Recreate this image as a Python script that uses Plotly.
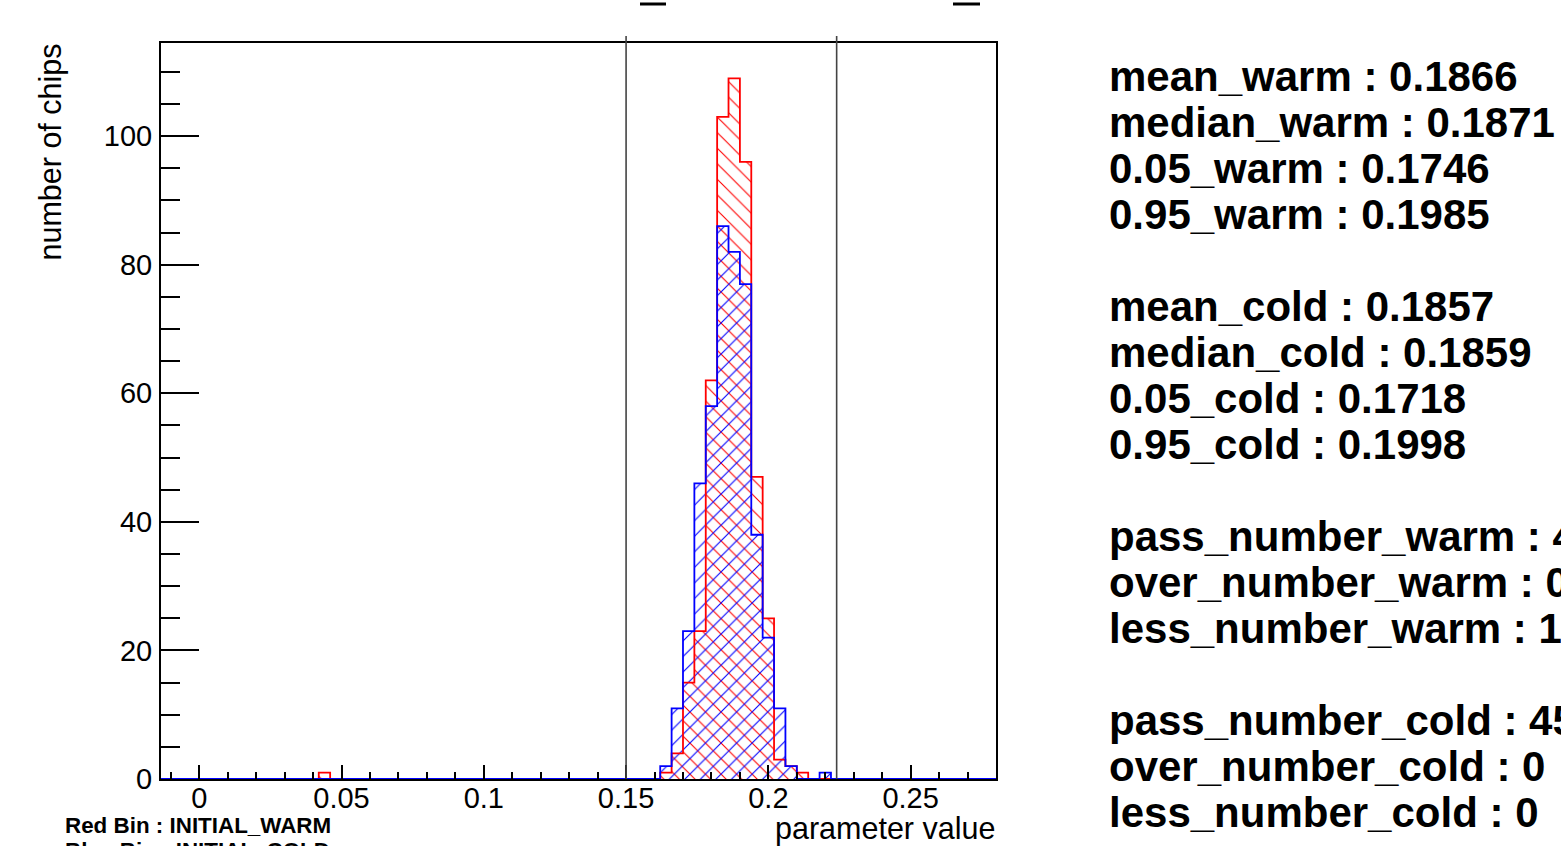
import numpy as np
import plotly.graph_objects as go

# ---------------- data ----------------
bin_width = 0.004
hist_lo = -0.014
n_bins = 74

warm_bin_low = [0.042, 0.162, 0.166, 0.170, 0.174, 0.178, 0.182, 0.186,
                0.190, 0.194, 0.198, 0.202, 0.206, 0.210]
warm_counts = [1, 1, 4, 15, 23, 62, 103, 109, 96, 47, 25, 3, 2, 1]

cold_bin_low = [0.162, 0.166, 0.170, 0.174, 0.178, 0.182, 0.186, 0.190,
                0.194, 0.198, 0.202, 0.206, 0.218]
cold_counts = [2, 11, 23, 46, 58, 86, 82, 77, 38, 22, 11, 2, 1]

limit_low = 0.15
limit_high = 0.224

x_ticks = [0, 0.05, 0.1, 0.15, 0.2, 0.25]
x_tick_labels = ["0", "0.05", "0.1", "0.15", "0.2", "0.25"]
y_ticks = [0, 20, 40, 60, 80, 100]
y_tick_labels = ["0", "20", "40", "60", "80", "100"]

warm_stats = [("mean_warm", "0.1866"), ("median_warm", "0.1871"),
              ("0.05_warm", "0.1746"), ("0.95_warm", "0.1985")]
cold_stats = [("mean_cold", "0.1857"), ("median_cold", "0.1859"),
              ("0.05_cold", "0.1718"), ("0.95_cold", "0.1998")]

x_title = "parameter value"
y_title = "number of chips"
legend_red = "Red Bin : INITIAL_WARM"
legend_blue = "Blue Bin : INITIAL_COLD"

# ---------------- layout geometry (pixels) ----------------
W, H = 1561, 846
L, R, T, B = 161, 996, 43, 779
PW, PH = R - L, B - T


def px(xp):
    return (xp - L) / PW


def py(yp):
    return (B - yp) / PH


def full_hist(lows, counts):
    c = np.zeros(n_bins)
    for lo, n in zip(lows, counts):
        c[int(round((lo - hist_lo) / bin_width))] = n
    return c


edges = hist_lo + bin_width * np.arange(n_bins + 1)
warm_full = full_hist(warm_bin_low, warm_counts)
cold_full = full_hist(cold_bin_low, cold_counts)


def counts_in(lows, counts, cond):
    return int(sum(n for lo, n in zip(lows, counts) if cond(lo + bin_width / 2)))


pass_w = counts_in(warm_bin_low, warm_counts, lambda x: limit_low <= x <= limit_high)
over_w = counts_in(warm_bin_low, warm_counts, lambda x: x > limit_high)
less_w = counts_in(warm_bin_low, warm_counts, lambda x: x < limit_low)
pass_c = counts_in(cold_bin_low, cold_counts, lambda x: limit_low <= x <= limit_high)
over_c = counts_in(cold_bin_low, cold_counts, lambda x: x > limit_high)
less_c = counts_in(cold_bin_low, cold_counts, lambda x: x < limit_low)

fig = go.Figure()

for lows, counts, full, col, shape in [
    (warm_bin_low, warm_counts, warm_full, "#ff0000", "\\"),
    (cold_bin_low, cold_counts, cold_full, "#0000ff", "/"),
]:
    centers = [lo + bin_width / 2 for lo in lows]
    fig.add_trace(go.Bar(
        x=centers, y=counts, width=bin_width,
        marker=dict(color="rgba(0,0,0,0)", line=dict(width=0),
                    pattern=dict(shape=shape, fgcolor=col, bgcolor="rgba(0,0,0,0)",
                                 size=11, solidity=0.1, fillmode="replace")),
        showlegend=False, hoverinfo="skip",
    ))
    fig.add_trace(go.Scatter(
        x=edges, y=list(full) + [full[-1]], mode="lines",
        line=dict(color=col, width=1.8, shape="hv"),
        showlegend=False, hoverinfo="skip",
    ))

# limit lines
for xv in [limit_low, limit_high]:
    fig.add_shape(type="line", xref="x", yref="paper", x0=xv, x1=xv,
                  y0=0, y1=py(36), line=dict(color="#444444", width=1.6))

# remnants of the cut-off title
for x0, x1 in [(640, 666), (953, 980)]:
    fig.add_shape(type="line", xref="paper", yref="paper", x0=px(x0), x1=px(x1),
                  y0=py(4), y1=py(4), line=dict(color="black", width=3))

tick_font = dict(family="Liberation Sans, Arial, sans-serif", size=29, color="black")
title_font = dict(family="Liberation Sans, Arial, sans-serif", size=30.5, color="black")

fig.update_layout(
    width=W, height=H,
    margin=dict(l=L, r=W - R, t=T, b=H - B, pad=0),
    paper_bgcolor="white", plot_bgcolor="white",
    barmode="overlay", bargap=0,
    xaxis=dict(range=[-0.01344, 0.2800], tickvals=x_ticks, ticktext=x_tick_labels,
               ticks="inside", ticklen=14, tickwidth=1.5, tickcolor="black",
               minor=dict(dtick=0.01, tick0=0, ticks="inside", ticklen=7,
                          tickwidth=1.5, tickcolor="black"),
               showline=True, mirror=True, linecolor="black", linewidth=2,
               showgrid=False, zeroline=False, tickfont=tick_font,
               ticklabelstandoff=-8),
    yaxis=dict(range=[0, 114.5], tickvals=y_ticks, ticktext=y_tick_labels,
               ticks="inside", ticklen=38, tickwidth=1.5, tickcolor="black",
               minor=dict(dtick=5, tick0=0, ticks="inside", ticklen=19,
                          tickwidth=1.5, tickcolor="black"),
               showline=True, mirror=True, linecolor="black", linewidth=2,
               showgrid=False, zeroline=False, tickfont=tick_font,
               ticklabelstandoff=1),
)

ann = []
ann.append(dict(text=x_title, xref="paper", yref="paper", x=px(997), y=py(828),
                xanchor="right", yanchor="middle", showarrow=False, font=title_font))
ann.append(dict(text=y_title, xref="paper", yref="paper", x=px(50), y=py(152.5),
                xanchor="center", yanchor="middle", textangle=-90, showarrow=False,
                font=title_font))
leg_font = dict(family="Liberation Sans, Arial, sans-serif", size=22.4, color="black",
                weight="bold")
ann.append(dict(text=legend_red, xref="paper", yref="paper", x=px(63), y=py(825),
                xanchor="left", yanchor="middle", showarrow=False, font=leg_font))
ann.append(dict(text=legend_blue, xref="paper", yref="paper", x=px(63), y=py(850),
                xanchor="left", yanchor="middle", showarrow=False, font=leg_font))

stat_lines = (
    [f"{k} : {v}" for k, v in warm_stats] + [None]
    + [f"{k} : {v}" for k, v in cold_stats] + [None]
    + [f"pass_number_warm : {pass_w}", f"over_number_warm : {over_w}",
       f"less_number_warm : {less_w}", None,
       f"pass_number_cold : {pass_c}", f"over_number_cold : {over_c}",
       f"less_number_cold : {less_c}"]
)
stat_font = dict(family="Liberation Sans, Arial, sans-serif", size=42, color="black",
                 weight="bold")
baseline0, step = 91, 46
for i, line in enumerate(stat_lines):
    if line is None:
        continue
    base = baseline0 + step * i
    ann.append(dict(text=line, xref="paper", yref="paper", x=px(1107),
                    y=py(base - 14.5), xanchor="left", yanchor="middle",
                    showarrow=False, font=stat_font))

fig.update_layout(annotations=ann)

fig.write_html("out.html", config={"displayModeBar": False},
               post_script="document.body.style.margin='0';document.body.style.overflow='hidden';")
